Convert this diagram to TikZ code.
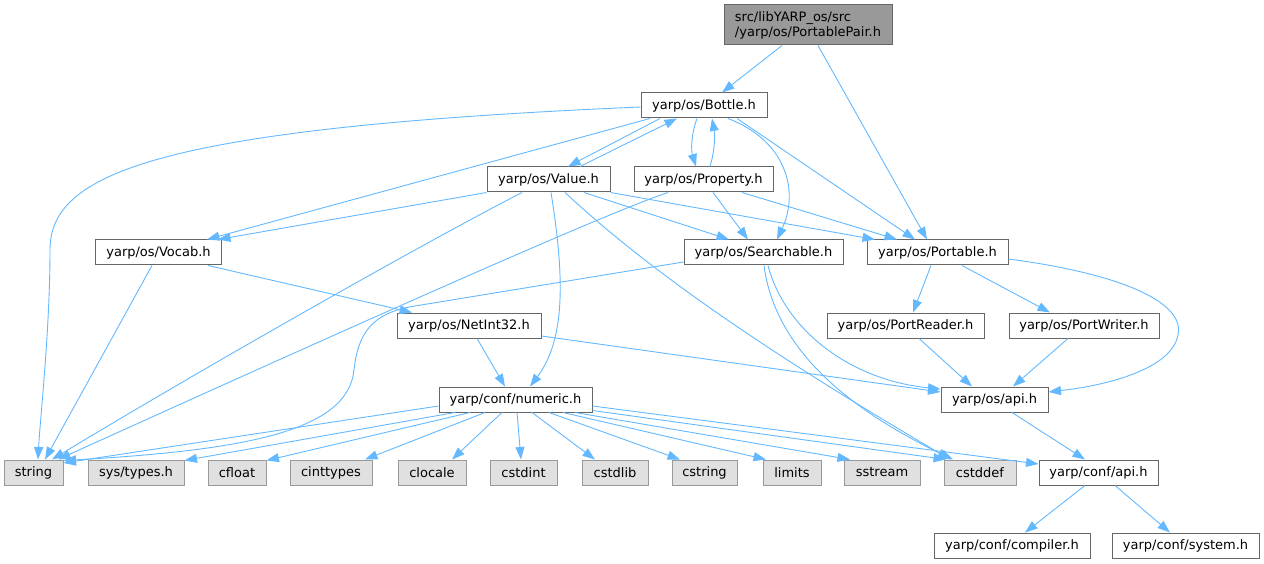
\documentclass[tikz,border=0pt]{standalone}
\usepackage{fontspec}
\setmainfont{DejaVu Sans}
\usetikzlibrary{arrows.meta}
\definecolor{edgec}{HTML}{63B8FF}
\definecolor{greyforty}{HTML}{666666}
\definecolor{greysixty}{HTML}{999999}
\definecolor{extfill}{HTML}{E0E0E0}
\tikzset{
  filebox/.style={draw=greyforty, fill=white, line width=1pt, inner sep=0pt,
    minimum height=25pt, font=\fontsize{13}{15}\selectfont, anchor=center},
  extbox/.style={filebox, draw=greysixty, fill=extfill},
  rootbox/.style={filebox, fill=greysixty, minimum height=40pt, align=left},
  dep/.style={draw=edgec, line width=0.9pt, -{Triangle[length=12.5pt,width=9pt]}},
}
\begin{document}
\begin{tikzpicture}[x=1pt,y=-1pt]
\useasboundingbox (0,0) rectangle (1264,564);
% nodes
\node[rootbox, minimum width=168pt] (pp) at (808,25) {src/libYARP\_os/src\\/yarp/os/PortablePair.h};
\node[filebox, minimum width=126pt] (bottle) at (704,105.5) {yarp/os/Bottle.h};
\node[filebox, minimum width=123pt] (value) at (548.5,179.5) {yarp/os/Value.h};
\node[filebox, minimum width=139pt] (property) at (703.5,179.5) {yarp/os/Property.h};
\node[filebox, minimum width=126pt] (vocab) at (158.5,252.5) {yarp/os/Vocab.h};
\node[filebox, minimum width=159pt] (searchable) at (763.5,252.5) {yarp/os/Searchable.h};
\node[filebox, minimum width=141pt] (portable) at (937.5,252.5) {yarp/os/Portable.h};
\node[filebox, minimum width=144pt] (netint) at (469,325.5) {yarp/os/NetInt32.h};
\node[filebox, minimum width=157pt] (portreader) at (905.5,325.5) {yarp/os/PortReader.h};
\node[filebox, minimum width=150pt] (portwriter) at (1084,325.5) {yarp/os/PortWriter.h};
\node[filebox, minimum width=153pt] (numeric) at (515.5,399.5) {yarp/conf/numeric.h};
\node[filebox, minimum width=107pt] (osapi) at (994.5,399.5) {yarp/os/api.h};
\node[extbox, minimum width=59pt] (string) at (33.5,472.5) {string};
\node[extbox, minimum width=96pt] (systypes) at (136,472.5) {sys/types.h};
\node[extbox, minimum width=58pt] (cfloat) at (237,472.5) {cfloat};
\node[extbox, minimum width=82pt] (cinttypes) at (331,472.5) {cinttypes};
\node[extbox, minimum width=68pt] (clocale) at (432,472.5) {clocale};
\node[extbox, minimum width=67pt] (cstdint) at (523.5,472.5) {cstdint};
\node[extbox, minimum width=66pt] (cstdlib) at (615,472.5) {cstdlib};
\node[extbox, minimum width=65pt] (cstring) at (704.5,472.5) {cstring};
\node[extbox, minimum width=58pt] (limits) at (792,472.5) {limits};
\node[extbox, minimum width=76pt] (sstream) at (882,472.5) {sstream};
\node[extbox, minimum width=72pt] (cstddef) at (980,472.5) {cstddef};
\node[filebox, minimum width=119pt] (confapi) at (1098.5,472.5) {yarp/conf/api.h};
\node[filebox, minimum width=156pt] (compiler) at (1012,545.5) {yarp/conf/compiler.h};
\node[filebox, minimum width=147pt] (system) at (1185.5,545.5) {yarp/conf/system.h};
% edges
\draw[dep] ([xshift=-26pt]pp.south) -- ([xshift=18pt]bottle.north);
\draw[dep] ([xshift=10pt]pp.south) -- ([xshift=-10.5pt]portable.north);
\draw[dep] ([yshift=-1.5pt]bottle.west) .. controls (150,128) and (50,175) .. (50,250)
  .. controls (50,330) and (40,420) .. ([xshift=4.5pt]string.north);
\draw[dep] ([xshift=-44pt]bottle.south) -- ([xshift=19.5pt]value.north);
\draw[dep] ([xshift=31.5pt]value.north) -- ([xshift=-27pt]bottle.south);
\draw[dep] ([xshift=-7pt]bottle.south) .. controls (691,135) and (691,150) .. ([xshift=-7.5pt]property.north);
\draw[dep] ([xshift=6.5pt]property.north) .. controls (715,150) and (715,135) .. ([xshift=8pt]bottle.south);
\draw[dep] ([xshift=-54pt]bottle.south) -- ([xshift=48.5pt]vocab.north);
\draw[dep] ([xshift=24pt]bottle.south) .. controls (785,140) and (800,190) .. ([xshift=13.5pt]searchable.north);
\draw[dep] ([xshift=33pt]bottle.south) -- ([xshift=-22.5pt]portable.north);
\draw[dep] (value.south west) -- ([xshift=59.5pt]vocab.north);
\draw[dep] ([xshift=-26.5pt]value.south) .. controls (420,245) and (200,370) .. ([xshift=18.5pt]string.north);
\draw[dep] ([xshift=2.5pt]value.south) .. controls (565,280) and (565,340) .. ([xshift=14.5pt]numeric.north);
\draw[dep] ([xshift=16.5pt]value.south) .. controls (680,300) and (850,400) .. ([xshift=-30pt]cstddef.north);
\draw[dep] ([xshift=35.5pt]value.south) -- ([xshift=-34.5pt]searchable.north);
\draw[dep] (value.south east) -- ([xshift=-62.5pt]portable.north);
\draw[dep] ([xshift=-35.5pt]property.south) .. controls (600,215) and (300,350) .. ([xshift=24.5pt]string.north);
\draw[dep] ([xshift=9.5pt]property.south) -- ([xshift=-15.5pt]searchable.north);
\draw[dep] ([xshift=38.5pt]property.south) -- ([xshift=-40.5pt]portable.north);
\draw[dep] ([xshift=-6.5pt]vocab.south) -- ([xshift=11.5pt]string.north);
\draw[dep] ([xshift=49.5pt]vocab.south) -- ([xshift=-57pt]netint.north);
\draw[dep] ([yshift=-9.5pt]searchable.west) -- (415,306) .. controls (370,313) and (358,335) .. (354,370)
  .. controls (348,430) and (250,450) .. ([yshift=-1pt]string.north east);
\draw[dep] ([xshift=0.5pt]searchable.south) .. controls (775,350) and (850,410) .. ([xshift=-27pt]cstddef.north);
\draw[dep] ([xshift=4.5pt]searchable.south) .. controls (785,330) and (850,380) .. ([yshift=10.5pt]osapi.west);
\draw[dep] ([xshift=-6.5pt]portable.south) -- ([xshift=7.5pt]portreader.north);
\draw[dep] ([xshift=24.5pt]portable.south) -- ([xshift=-34pt]portwriter.north);
\draw[dep] ([yshift=-6.5pt]portable.east) .. controls (1130,275) and (1185,305) .. (1178,335)
  .. controls (1172,368) and (1110,385) .. ([yshift=7.5pt]osapi.east);
\draw[dep] ([xshift=13.5pt]portreader.south) -- ([xshift=-22.5pt]osapi.north);
\draw[dep] ([xshift=-16pt]portwriter.south) -- ([xshift=18.5pt]osapi.north);
\draw[dep] ([xshift=8pt]netint.south) -- ([xshift=-10.5pt]numeric.north);
\draw[dep] ([yshift=-10.5pt]netint.east) -- ([yshift=7.5pt]osapi.west);
\draw[dep] ([yshift=-6.5pt]numeric.west) -- ([yshift=9.5pt]string.east);
\draw[dep] ([xshift=-60.5pt]numeric.south) -- ([yshift=-1pt]systypes.north east);
\draw[dep] ([xshift=-45.5pt]numeric.south) -- ([yshift=-1pt]cfloat.north east);
\draw[dep] ([xshift=-30.5pt]numeric.south) -- ([xshift=34pt]cinttypes.north);
\draw[dep] ([xshift=-13.5pt]numeric.south) -- ([xshift=20pt]clocale.north);
\draw[dep] ([xshift=1.5pt]numeric.south) -- ([xshift=-2.5pt]cstdint.north);
\draw[dep] ([xshift=16.5pt]numeric.south) -- ([xshift=-20pt]cstdlib.north);
\draw[dep] ([xshift=33.5pt]numeric.south) -- ([xshift=-24.5pt]cstring.north);
\draw[dep] ([xshift=47.5pt]numeric.south) -- ([xshift=-26pt]limits.north);
\draw[dep] ([xshift=59.5pt]numeric.south) -- ([xshift=-32pt]sstream.north);
\draw[dep] ([yshift=2pt]numeric.south east) -- ([xshift=-34pt]cstddef.north);
\draw[dep] ([yshift=-6.5pt]numeric.east) -- ([yshift=8.5pt]confapi.west);
\draw[dep] ([xshift=17.5pt]osapi.south) -- ([xshift=-13.5pt]confapi.north);
\draw[dep] ([xshift=-13.5pt]confapi.south) -- ([xshift=13pt]compiler.north);
\draw[dep] ([xshift=16.5pt]confapi.south) -- ([xshift=-15.5pt]system.north);
\end{tikzpicture}
\end{document}
